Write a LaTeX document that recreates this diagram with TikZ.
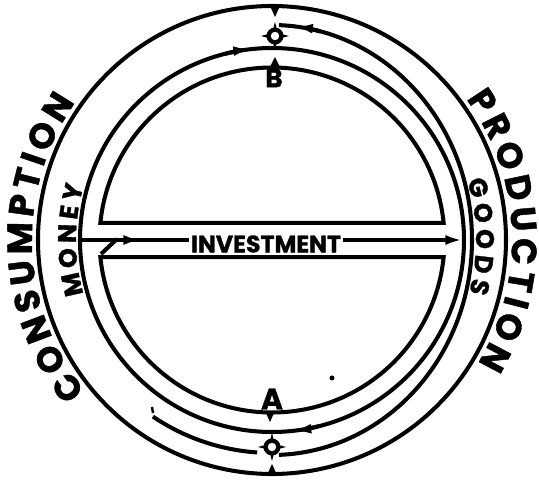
\documentclass[tikz,border=0pt]{standalone}
\usepackage{fontspec}
\setmainfont{Poppins}[BoldFeatures={FakeBold=1.2}]
\usetikzlibrary{decorations.text,arrows.meta}
\begin{document}
\begin{tikzpicture}[x=0.02cm,y=0.02cm,line width=2.3pt,
  ring/.style={draw=black,line width=2.3pt},
  tip/.style={-{Latex[length=10pt,width=5.6pt]},line width=2.3pt},
  lbl/.style={font=\bfseries},
  valve/.pic={
    \fill (0,14) -- (3,3) -- (14,0) -- (3,-3) -- (0,-14) -- (-3,-3) -- (-14,0) -- (-3,3) -- cycle;
    \fill (0,0) circle[radius=8.5];
    \fill[white] (0,0) circle[radius=4.2];
  }]
\useasboundingbox (0,0) rectangle (539,-480);
\coordinate (O) at (272,-240);
% outer circle
\draw[ring] (O) circle[radius=234];
% second ring
\draw[ring] (O) circle[radius=192];
% extra channel on the right (from B to A)
\draw[ring] (O) ++(88:200 and 215) arc[start angle=88,end angle=-88,x radius=200,y radius=215];
% extra piece lower left
\draw[ring] (O) ++(266:213) arc[start angle=266,end angle=236,radius=213];
% upper and lower D
\draw[ring] (O) ++(5.7:172.5) arc[start angle=5.7,end angle=174.3,radius=172.5] -- cycle;
\draw[ring] (O) ++(185.7:172.5) arc[start angle=185.7,end angle=354.3,radius=172.5] -- cycle;
% investment channel
\coordinate (mL) at (80,-240);
\coordinate (gR) at (463,-240);
\draw[tip] (mL) -- (gR);
\draw[tip] (mL) -- (141,-240);
\draw[ring] (101,-254) -- (117,-239);
% arrows on the rings
\draw[tip] (O) ++(104:192) arc[start angle=104,end angle=96.3,radius=192];
\draw[tip] (O) ++(-76:192) arc[start angle=-76,end angle=-83.5,radius=192];
\draw[tip] (O) ++(76:200 and 215) arc[start angle=76,end angle=83.3,x radius=200,y radius=215];
% valves
\pic at (275,-36) {valve};
\pic at (272,-447) {valve};
% small wedges
\fill (270.5,-7) -- (279.5,-7) -- (275,-17) -- cycle;
\fill (270.5,-66) -- (279.5,-66) -- (275,-57) -- cycle;
\fill (265.5,-412) -- (274.5,-412) -- (270,-422) -- cycle;
\fill (267.5,-474) -- (276.5,-474) -- (272,-464) -- cycle;
% letters
\node[lbl,font=\bfseries\fontsize{15}{15}\selectfont,inner sep=0pt] (B) at (274,-78) {B};
\node[lbl,font=\bfseries\fontsize{17}{17}\selectfont,inner sep=0pt] (A) at (272,-399) {A};
\node[lbl,font=\bfseries\fontsize{13.5}{13.5}\selectfont,fill=white,inner sep=1pt] (inv) at (266,-244) {INVESTMENT};
% curved labels
\path[decorate,decoration={text along path,text align={fit to path},
  text={|\bfseries\fontsize{20}{20}\selectfont|CONSUMPTION}}]
  (O) ++(219:240) arc[start angle=219,end angle=145,radius=240];
\path[decorate,decoration={text along path,text align={fit to path},
  text={|\bfseries\fontsize{20}{20}\selectfont|PRODUCTION}}]
  (O) ++(36:240) arc[start angle=36,end angle=-31,radius=240];
\path[decorate,decoration={text along path,text align={fit to path},
  text={|\bfseries\fontsize{14.5}{14.5}\selectfont|MONEY}}]
  (O) ++(196:196) arc[start angle=196,end angle=164,radius=196];
\path[decorate,decoration={text along path,text align={fit to path},
  text={|\bfseries\fontsize{14.5}{14.5}\selectfont|GOODS}}]
  (O) ++(17:204) arc[start angle=17,end angle=-15,radius=204];
% specks
\fill (332,-378) circle[radius=2.5];
\draw[line width=1.4pt] (152,-407) -- (153,-413);
\end{tikzpicture}
\end{document}
